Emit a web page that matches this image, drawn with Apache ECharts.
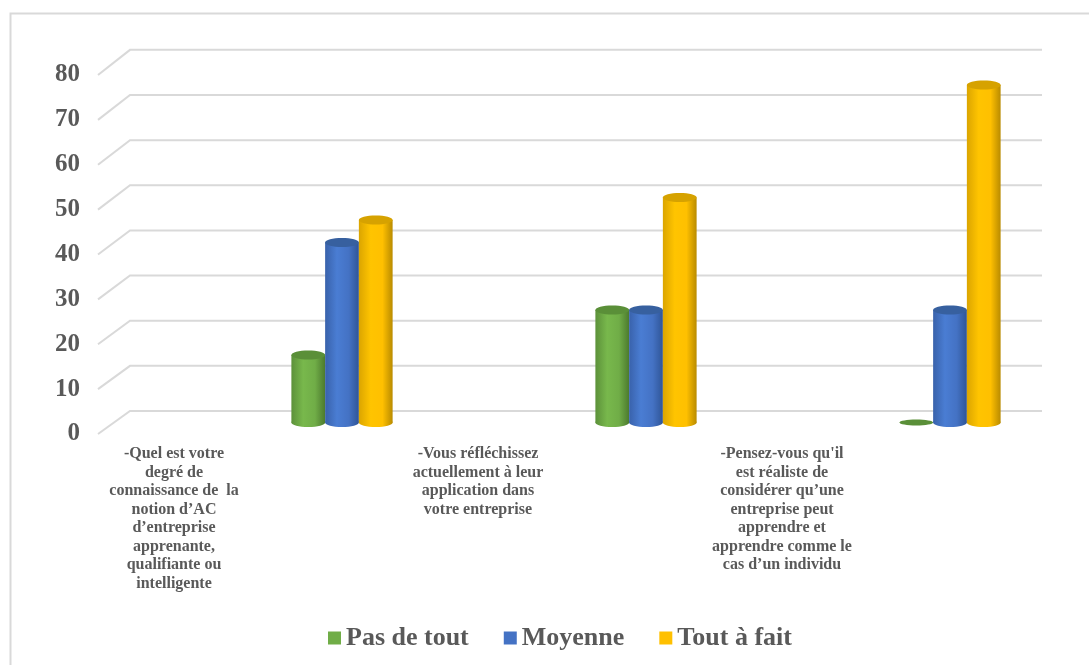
<!DOCTYPE html>
<html>
<head>
<meta charset="utf-8">
<script src="https://cdn.jsdelivr.net/npm/echarts@6/dist/echarts.min.js"></script>
<style>
  html, body { margin: 0; padding: 0; background: #ffffff; }
  #chart { width: 1089px; height: 665px; }
</style>
</head>
<body>
<div id="chart"></div>
<script>
// Questions sit on the odd slots; the answer columns stand in the slot after each question.
const categories = [
  '-Quel est votre\ndegré de\nconnaissance de  la\nnotion d’AC\nd’entreprise\napprenante,\nqualifiante ou\nintelligente',
  '',
  '-Vous réfléchissez\nactuellement à leur\napplication dans\nvotre entreprise',
  '',
  "-Pensez-vous qu'il\nest réaliste de\nconsidérer qu’une\nentreprise peut\napprendre et\napprendre comme le\ncas d’un individu",
  ''
];
const seriesNames = ['Pas de tout', 'Moyenne', 'Tout à fait'];
const pasDeTout = [null, 15, null, 25, null, 0];
const moyenne   = [null, 40, null, 25, null, 25];
const toutAFait = [null, 45, null, 50, null, 75];
const yTicks = [0, 10, 20, 30, 40, 50, 60, 70, 80];

const serif = "'Times New Roman', 'Liberation Serif', serif";
const textGrey = '#595959';

// cylinder shading: [left edge, highlight, right edge, top cap]
const shades = [
  { base: '#70AD47', left: '#5c913a', mid: '#78b84c', right: '#4c7a2e', top: '#5a8f38' },
  { base: '#4472C4', left: '#3962ab', mid: '#4a7dd3', right: '#2f5597', top: '#37609f' },
  { base: '#FFC000', left: '#dba500', mid: '#ffc400', right: '#b98b00', top: '#d6a200' }
];

// Perspective depth: f = 0 front plane, 1 back wall.
const DEPTH_X = 32, DEPTH_Y = 23;
function depth(p, zero, f) {
  return [p[0] + DEPTH_X * f, zero - DEPTH_Y * f + (p[1] - zero) * (1 + 0.006 * f)];
}

function toData(arr) {
  const out = [];
  arr.forEach((v, i) => { if (v !== null) out.push([i, v]); });
  return out;
}

function wallRender(params, api) {
  const zero = api.coord([0, 0])[1];
  const band = api.size([1, 0])[0];
  const children = [];
  yTicks.forEach(t => {
    const left = api.coord([0, t]);
    left[0] -= band / 2;
    const right = api.coord([categories.length - 1, t]);
    right[0] += band / 2;
    const b1 = depth(left, zero, 1);
    const b2 = depth(right, zero, 1);
    children.push({
      type: 'polyline',
      shape: { points: [left, b1, [b2[0], b1[1]]] },
      style: { stroke: '#d9d9d9', lineWidth: 2, fill: null }
    });
  });
  return { type: 'group', children };
}

function barRender(si) {
  return function (params, api) {
    const cat = api.value(0), val = api.value(1);
    const zero = api.coord([0, 0])[1];
    const band = api.size([1, 0])[0];
    const w = band * 0.222;
    const c = api.coord([cat, val]);
    const b = api.coord([cat, 0]);
    const top = depth(c, zero, 0.5);
    const base = depth(b, zero, 0.5);
    const x = top[0] + (si - 1) * w - w / 2;
    const ry = 4.5;
    const s = shades[si];
    const grad = new echarts.graphic.LinearGradient(0, 0, 1, 0, [
      { offset: 0, color: s.left },
      { offset: 0.35, color: s.mid },
      { offset: 0.7, color: s.base },
      { offset: 1, color: s.right }
    ]);
    const children = [];
    if (val > 0) {
      children.push({
        type: 'ellipse',
        shape: { cx: x + w / 2, cy: base[1], rx: w / 2, ry: ry },
        style: { fill: grad }
      });
      children.push({
        type: 'rect',
        shape: { x: x, y: top[1], width: w, height: base[1] - top[1] },
        style: { fill: grad }
      });
    }
    children.push({
      type: 'ellipse',
      shape: { cx: x + w / 2, cy: top[1], rx: w / 2, ry: val > 0 ? ry : 3 },
      style: { fill: s.top }
    });
    return { type: 'group', children };
  };
}

const chart = echarts.init(document.getElementById('chart'), null, { renderer: 'canvas' });
const valueSets = [pasDeTout, moyenne, toutAFait];

chart.setOption({
  backgroundColor: '#ffffff',
  animation: false,
  graphic: [{
    type: 'rect',
    shape: { x: 10.5, y: 13.5, width: 1200, height: 800 },
    style: { fill: null, stroke: '#d9d9d9', lineWidth: 2 },
    silent: true,
    z: -1
  }],
  grid: { left: 98, right: 79, top: 75, bottom: 231 },
  legend: {
    data: seriesNames,
    left: 323,
    top: 620,
    icon: 'rect',
    itemWidth: 13,
    itemHeight: 13,
    itemGap: 35,
    textStyle: { fontFamily: serif, fontWeight: 'bold', fontSize: 26, color: textGrey }
  },
  xAxis: {
    type: 'category',
    data: categories,
    boundaryGap: true,
    axisLine: { show: false },
    axisTick: { show: false },
    splitLine: { show: false },
    axisLabel: {
      interval: 0,
      margin: 11,
      verticalAlign: 'top',
      fontFamily: serif,
      fontWeight: 'bold',
      fontSize: 16,
      lineHeight: 18.5,
      color: textGrey,
      align: 'center'
    }
  },
  yAxis: {
    type: 'value',
    min: 0,
    max: 80,
    interval: 10,
    axisLine: { show: false },
    axisTick: { show: false },
    splitLine: { show: false },
    axisLabel: {
      margin: 18,
      fontFamily: serif,
      fontWeight: 'bold',
      fontSize: 25,
      color: textGrey
    }
  },
  series: [
    {
      type: 'custom',
      name: 'wall',
      data: [[0, 0]],
      renderItem: wallRender,
      clip: false,
      silent: true,
      z: 1
    }
  ].concat(valueSets.map((arr, si) => ({
    type: 'custom',
    name: seriesNames[si],
    data: toData(arr),
    itemStyle: { color: shades[si].base },
    renderItem: barRender(si),
    encode: { x: 0, y: 1 },
    clip: false,
    z: 2 + si
  })))
});
</script>
</body>
</html>
